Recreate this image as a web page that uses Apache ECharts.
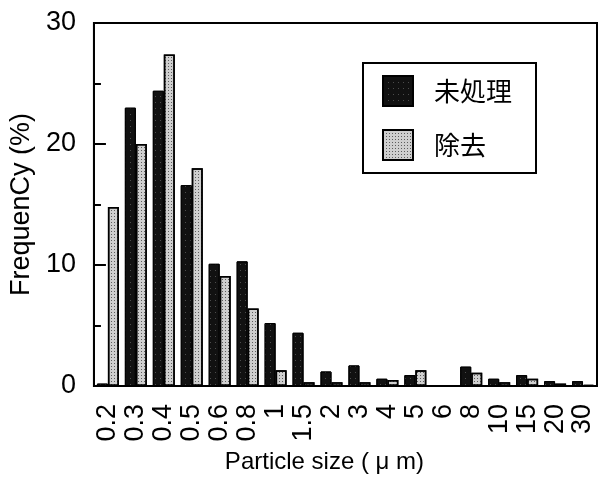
<!DOCTYPE html>
<html>
<head>
<meta charset="utf-8">
<script src="https://cdn.jsdelivr.net/npm/echarts@6/dist/echarts.min.js"></script>
<style>
html, body { margin: 0; padding: 0; background: #fff; }
#chart { width: 599px; height: 479px; }
</style>
</head>
<body>
<div id="chart"></div>
<script>
// 粒径カテゴリ
var categories = ['0.2', '0.3', '0.4', '0.5', '0.6', '0.8', '1', '1.5', '2', '3', '4', '5', '6', '8', '10', '15', '20', '30'];
// 未処理
var untreated = [0.2, 23, 24.4, 16.6, 10.1, 10.3, 5.2, 4.4, 1.2, 1.7, 0.6, 0.9, 0, 1.6, 0.6, 0.9, 0.4, 0.4];
// 除去
var removed = [14.8, 20, 27.4, 18.0, 9.1, 6.4, 1.3, 0.3, 0.3, 0.3, 0.5, 1.3, 0, 1.1, 0.3, 0.6, 0.2, 0.1];
var yTicks = [0, 10, 20, 30];

var myChart = echarts.init(document.getElementById('chart'));

var option = {
    backgroundColor: '#fff',
    animation: false,
    grid: {
        left: 91,
        right: 2,
        top: 23,
        bottom: 93,
        show: true,
        borderColor: '#000',
        borderWidth: 2
    },
    legend: {
        orient: 'vertical',
        left: 363,
        top: 63,
        padding: [12, 24, 12, 19],
        itemGap: 22,
        itemWidth: 30,
        itemHeight: 30,
        icon: 'rect',
        backgroundColor: '#fff',
        borderColor: '#000',
        borderWidth: 2,
        textStyle: {
            fontFamily: 'Noto Sans CJK JP',
            fontSize: 26,
            color: '#000',
            padding: [0, 0, 0, 16]
        },
        data: ['未処理', '除去']
    },
    xAxis: {
        type: 'category',
        data: categories,
        name: 'Particle size ( μ m)',
        nameLocation: 'middle',
        nameGap: 64,
        nameTextStyle: {
            fontFamily: 'Liberation Sans',
            fontSize: 24,
            color: '#000',
            padding: [0, 42, 0, 0]
        },
        axisLine: { lineStyle: { color: '#000', width: 2 } },
        axisTick: { inside: true, length: 10, lineStyle: { color: '#000', width: 1.5 } },
        axisLabel: {
            rotate: 90,
            margin: 18,
            interval: 0,
            fontFamily: 'Liberation Sans',
            fontSize: 27,
            color: '#000'
        }
    },
    yAxis: {
        type: 'value',
        min: yTicks[0],
        max: yTicks[yTicks.length - 1],
        interval: 10,
        name: 'FrequenCy (%)',
        nameLocation: 'middle',
        nameGap: 54,
        nameTextStyle: {
            fontFamily: 'Liberation Sans',
            fontSize: 27,
            color: '#000'
        },
        splitLine: { show: false },
        axisLine: { show: true, lineStyle: { color: '#000', width: 2 } },
        axisTick: { show: true, inside: true, length: 12, lineStyle: { color: '#000', width: 2 } },
        minorTick: { show: true, splitNumber: 2, length: 7, lineStyle: { color: '#000', width: 2 } },
        axisLabel: {
            margin: 18,
            fontFamily: 'Liberation Sans',
            fontSize: 27,
            color: '#000'
        }
    },
    series: [
        {
            name: '未処理',
            type: 'bar',
            data: untreated,
            barWidth: 11,
            barGap: '0%',
            itemStyle: {
                color: '#111',
                borderColor: '#000',
                borderWidth: 1,
                decal: {
                    symbol: 'rect',
                    symbolSize: 1,
                    color: 'rgba(255,255,255,0.25)',
                    dashArrayX: [1, 4],
                    dashArrayY: [1, 5],
                    rotation: 0
                }
            }
        },
        {
            name: '除去',
            type: 'bar',
            data: removed,
            barWidth: 11,
            itemStyle: {
                color: '#cfcfcf',
                borderColor: '#000',
                borderWidth: 1.5,
                decal: {
                    symbol: 'rect',
                    symbolSize: 1,
                    color: 'rgba(0,0,0,0.55)',
                    dashArrayX: [1, 2],
                    dashArrayY: [1, 2],
                    rotation: 0
                }
            }
        }
    ]
};

myChart.setOption(option);
</script>
</body>
</html>
